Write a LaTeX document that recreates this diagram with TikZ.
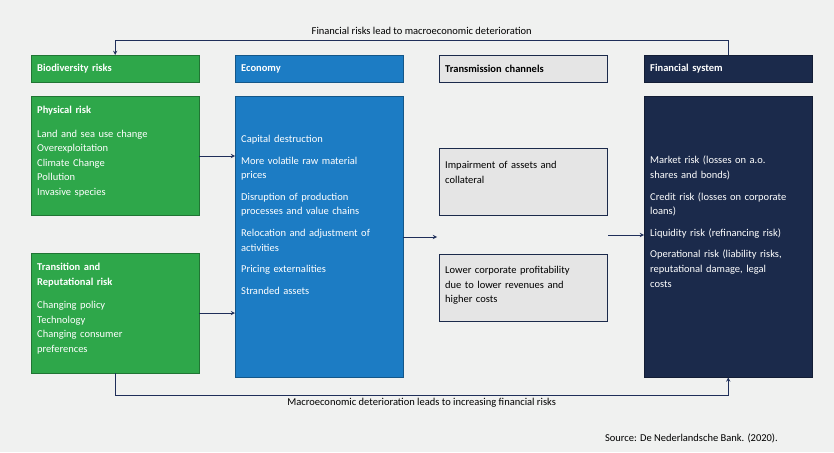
\documentclass[tikz,border=0pt]{standalone}
\usepackage{fontspec}
\setmainfont{Carlito}
\usetikzlibrary{positioning}
\definecolor{bgray}{HTML}{F0F1F0}
\definecolor{bgreen}{HTML}{2EA74A}
\definecolor{bblue}{HTML}{1C7CC4}
\definecolor{bnavy}{HTML}{1B2A4B}
\definecolor{tgray}{HTML}{E5E5E5}
\definecolor{lnavy}{HTML}{1F2F5A}

\begin{document}
\begin{tikzpicture}
[
    x=1pt, y=-1pt,
    every node/.append style = {font=\fontsize{10.5}{14.6}\selectfont, inner sep=0pt},
    box/.style = {draw=#1!70!black, fill=#1, anchor=north west, text=white, align=left, minimum height=27pt},
    head/.style = {box=#1, font=\fontsize{10.5}{14.6}\selectfont\bfseries, text width=156pt, inner xsep=6pt, minimum height=27pt},
    body/.style = {box=#1, text width=156pt, inner xsep=6pt},
    flow/.style = {draw=lnavy, line width=0.9pt, -stealth}
]
\fill[bgray] (0,0) rectangle (834,452);
\useasboundingbox (0,0) rectangle (834,452);

% headers
\node[head=bgreen] (bioh) at (31,55) {Biodiversity risks};
\node[head=bblue] (ecoh) at (235,55) {Economy};
\node[head=tgray, text=black, draw=bnavy] (trah) at (439,55) {Transmission channels};
\node[head=bnavy] (finh) at (644,55) {Financial system};

% boxes
\node[body=bgreen, minimum height=119pt, anchor=north west] (phys) at (31,96) {};
\node[anchor=north west, text=white, align=left, text width=156pt] at (37,106)
  {\textbf{Physical risk}\\[9pt]Land and sea use change\\Overexploitation\\Climate Change\\Pollution\\Invasive species};
\node[body=bgreen, minimum height=120pt] (trans) at (31,253) {};
\node[anchor=north west, text=white, align=left, text width=156pt] at (37,263)
  {\textbf{Transition and}\\\textbf{Reputational risk}\\[9pt]Changing policy\\Technology\\Changing consumer\\preferences};
\node[body=bblue, minimum height=281pt] (eco) at (235,96) {};
\node[anchor=north west, text=white, align=left, text width=150pt] at (241,135)
  {Capital destruction\\[7pt]More volatile raw material\\prices\\[7pt]Disruption of production\\processes and value chains\\[7pt]Relocation and adjustment of\\activities\\[7pt]Pricing externalities\\[7pt]Stranded assets};
\node[body=tgray, draw=bnavy, minimum height=67pt] (imp) at (439,148) {};
\node[anchor=north west, align=left, text width=156pt] at (445,161)
  {Impairment of assets and\\collateral};
\node[body=tgray, draw=bnavy, minimum height=67pt] (corp) at (439,254) {};
\node[anchor=north west, align=left, text width=156pt] at (445,266)
  {Lower corporate profitability\\due to lower revenues and\\higher costs};
\node[box=bnavy, minimum width=168pt, minimum height=281pt] (fin) at (644,96) {};
\node[anchor=north west, text=white, align=left, text width=150pt] at (650,156)
  {Market risk (losses on a.o.\\shares and bonds)\\[7pt]Credit risk (losses on corporate\\loans)\\[7pt]Liquidity risk (refinancing risk)\\[7pt]Operational risk (liability risks,\\reputational damage, legal\\costs};

% connectors
\coordinate (mid) at (437,237);
\coordinate (tmid) at (608,235);
\path[flow] (phys.east |- 0,156) -- (eco.west |- 0,156);
\path[flow] (trans.east |- 0,313) -- (eco.west |- 0,313);
\path[flow] (eco.east |- mid) -- (mid);
\path[flow] (tmid) -- (fin.west |- tmid);
\path[flow] (finh.north) -- ++(0,-15) -| (bioh.north)
  node[pos=0.25, above=5pt, text=black] {Financial risks lead to macroeconomic deterioration};
\path[flow] (trans.south) -- (trans.south |- 0,395) -| (fin.south)
  node[pos=0.25, below=3pt, text=black] {Macroeconomic deterioration leads to increasing financial risks};

\node[anchor=east] (src) at (778,438) {Source: De Nederlandsche Bank. (2020).};
\end{tikzpicture}
\end{document}
